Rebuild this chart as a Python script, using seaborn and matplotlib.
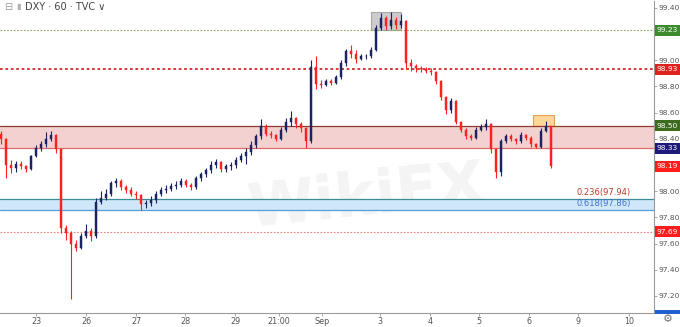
import matplotlib
matplotlib.use("Agg")
import matplotlib.pyplot as plt
import matplotlib.transforms as mtransforms
from matplotlib.patches import Rectangle
import seaborn as sns
import pandas as pd

# ---------------- data ----------------
first_open = 98.44
close = [98.40, 98.20, 98.18, 98.21, 98.19, 98.17, 98.27, 98.33, 98.36, 98.40,
         98.43, 98.32, 97.72, 97.68, 97.60, 97.57, 97.66, 97.70, 97.66, 97.92,
         97.95, 97.98, 98.06, 98.08, 98.03, 98.01, 97.98, 97.97, 97.90, 97.91,
         97.93, 97.98, 98.01, 98.02, 98.04, 98.05, 98.08, 98.05, 98.03, 98.10,
         98.13, 98.16, 98.20, 98.22, 98.17, 98.19, 98.20, 98.24, 98.27, 98.30,
         98.35, 98.42, 98.50, 98.44, 98.43, 98.40, 98.47, 98.53, 98.56, 98.51,
         98.48, 98.38, 98.95, 98.82, 98.81, 98.84, 98.83, 98.87, 98.98, 99.07,
         99.05, 99.01, 99.03, 99.03, 99.08, 99.25, 99.32, 99.26, 99.31, 99.27,
         99.30, 98.98, 98.96, 98.94, 98.93, 98.92, 98.91, 98.84, 98.72, 98.62,
         98.69, 98.53, 98.47, 98.42, 98.41, 98.47, 98.49, 98.51, 98.32, 98.15,
         98.38, 98.42, 98.40, 98.38, 98.43, 98.41, 98.36, 98.34, 98.46, 98.50,
         98.19]
high = [98.46, 98.41, 98.24, 98.23, 98.23, 98.20, 98.28, 98.35, 98.38, 98.45,
        98.46, 98.44, 98.33, 97.74, 97.70, 97.63, 97.68, 97.75, 97.72, 97.95,
        98.00, 98.02, 98.08, 98.10, 98.09, 98.05, 98.03, 98.00, 97.98, 97.93,
        97.96, 98.00, 98.03, 98.05, 98.06, 98.08, 98.10, 98.09, 98.06, 98.12,
        98.15, 98.18, 98.23, 98.25, 98.23, 98.21, 98.22, 98.26, 98.29, 98.33,
        98.38, 98.44, 98.55, 98.51, 98.46, 98.44, 98.49, 98.56, 98.61, 98.57,
        98.53, 98.49, 99.00, 99.03, 98.85, 98.86, 98.86, 98.89, 99.00, 99.09,
        99.12, 99.08, 99.05, 99.05, 99.10, 99.27, 99.36, 99.34, 99.37, 99.33,
        99.35, 99.31, 99.01, 98.97, 98.96, 98.95, 98.94, 98.92, 98.85, 98.73,
        98.71, 98.70, 98.54, 98.48, 98.44, 98.49, 98.51, 98.55, 98.52, 98.33,
        98.40, 98.44, 98.44, 98.41, 98.45, 98.44, 98.42, 98.37, 98.48, 98.54,
        98.50]
low = [98.36, 98.10, 98.14, 98.15, 98.17, 98.15, 98.16, 98.26, 98.31, 98.34,
       98.38, 98.29, 97.68, 97.63, 97.18, 97.54, 97.56, 97.64, 97.62, 97.64,
       97.90, 97.93, 97.96, 98.03, 98.01, 97.99, 97.96, 97.94, 97.86, 97.87,
       97.89, 97.91, 97.96, 97.99, 98.00, 98.02, 98.03, 98.03, 98.01, 98.02,
       98.08, 98.11, 98.14, 98.18, 98.15, 98.15, 98.16, 98.18, 98.22, 98.21,
       98.28, 98.33, 98.40, 98.42, 98.41, 98.38, 98.39, 98.45, 98.50, 98.48,
       98.45, 98.33, 98.37, 98.78, 98.79, 98.80, 98.81, 98.82, 98.86, 98.96,
       99.02, 98.98, 99.00, 99.01, 99.02, 99.07, 99.23, 99.23, 99.24, 99.24,
       99.25, 98.93, 98.92, 98.91, 98.91, 98.90, 98.89, 98.82, 98.70, 98.59,
       98.60, 98.51, 98.45, 98.40, 98.39, 98.40, 98.46, 98.47, 98.29, 98.10,
       98.12, 98.37, 98.38, 98.36, 98.37, 98.39, 98.34, 98.33, 98.33, 98.45,
       98.18]

tick_labels = ["23", "26", "27", "28", "29", "21:00", "Sep", "3", "4", "5", "6", "9", "10"]
tick_pos = [7.0, 17.0, 27.0, 36.8, 46.8, 55.6, 64.2, 75.8, 85.8, 95.6, 105.6, 115.4, 125.6]

price_ticks = [97.20, 97.40, 97.60, 97.80, 98.00, 98.20, 98.40, 98.60, 98.80, 99.00, 99.20, 99.40]
hidden_price_labels = [98.20, 99.20]   # covered by the price tags in the reference

level_green = 99.23
level_red = 98.93
zone_top, zone_bot = 98.50, 98.33
fib_236, fib_618 = 97.94, 97.86
level_low = 97.69

tags = [(99.23, "#3d8b2f"), (98.93, "#e0221f"), (98.50, "#3c6b1e"),
        (98.33, "#1d1a7a"), (98.19, "#ff1c1c"), (97.69, "#ff1c1c")]

# ---------------- build table ----------------
opens = [first_open] + close[:-1]
df = pd.DataFrame({"i": range(len(close)), "open": opens, "close": close,
                   "high": high, "low": low})
df["up"] = df["close"] >= df["open"]
df["bottom"] = df[["open", "close"]].min(axis=1)
df["height"] = (df["close"] - df["open"]).abs().clip(lower=0.006)

sns.set_theme(style="white")
plt.rcParams["font.family"] = ["DejaVu Sans"]

W, H = 680, 327
fig = plt.figure(figsize=(W / 100, H / 100), dpi=100)
ax = fig.add_axes([0, 14 / H, 654 / W, 1 - 15 / H])
ax.set_facecolor("white")

ymin, ymax = 97.07, 99.453
ax.set_ylim(ymin, ymax)
ax.set_xlim(-0.2, 130.6)

UP = "#1b2463"
DN = "#ff2020"

# watermark
ax.text(73, 97.95, "WikiFX", fontsize=44, fontweight="bold", color="#f4f4f4",
        ha="center", va="center", rotation=6, zorder=0)

# zones and levels
ax.axhspan(zone_bot, zone_top, color="#f3c9c9", alpha=0.85, lw=0, zorder=1)
ax.axhline(zone_top, color="#8c3b2e", lw=0.9, zorder=2)
ax.axhline(zone_bot, color="#e06a6a", lw=0.9, zorder=2)
ax.axhspan(fib_618, fib_236, color="#cfe7f8", lw=0, zorder=1)
ax.axhline(fib_236, color="#3f8d94", lw=0.9, zorder=2)
ax.axhline(fib_618, color="#4f9fe0", lw=0.9, zorder=2)
ax.axhline(level_green, color="#8fa86a", lw=0.8, ls=(0, (1.5, 1.5)), zorder=2)
ax.axhline(level_red, color="#d62828", lw=1.3, ls=(0, (1.5, 1.5)), zorder=2)
ax.axhline(level_low, color="#e88080", lw=0.8, ls=(0, (1.5, 1.5)), zorder=2)

# highlight boxes
ax.add_patch(Rectangle((74.0, 99.23), 6.0, 0.14, facecolor="#c4c4c4",
                       edgecolor="#9e9e9e", lw=0.8, alpha=0.85, zorder=1))
ax.add_patch(Rectangle((106.4, 98.50), 4.1, 0.082, facecolor="#ffd79a",
                       edgecolor="#e6a055", lw=0.8, zorder=1))

# candles: wicks + bodies
for up, col in [(True, UP), (False, DN)]:
    d = df[df["up"] == up]
    ax.vlines(d["i"], d["low"], d["high"], color=col, lw=0.8, zorder=3)
    ax.bar(d["i"], d["height"], bottom=d["bottom"], width=0.55, color=col,
           edgecolor=col, lw=0.3, zorder=4)

# fib labels
ax.text(126, fib_236 + 0.015, "0.236(97.94)", color="#c0392b", fontsize=6,
        ha="right", va="bottom", zorder=5)
ax.text(126, fib_618 + 0.01, "0.618(97.86)", color="#3d6fd0", fontsize=6,
        ha="right", va="bottom", zorder=5)

# axes styling
for s in ["top", "left"]:
    ax.spines[s].set_visible(False)
ax.spines["right"].set_color("#9a9a9a")
ax.spines["bottom"].set_color("#9a9a9a")
ax.spines["right"].set_linewidth(0.8)
ax.spines["bottom"].set_linewidth(0.8)
ax.yaxis.tick_right()
ax.set_yticks(price_ticks)
ax.set_yticklabels(["" if v in hidden_price_labels else f"{v:.2f}" for v in price_ticks])
ax.set_xticks(tick_pos)
ax.set_xticklabels(tick_labels)
ax.tick_params(axis="y", which="both", right=True, length=2.5, width=0.6,
               color="#9a9a9a", labelsize=5.4, labelcolor="#555555", pad=1)
ax.tick_params(axis="x", which="both", bottom=True, length=2, width=0.6,
               color="#9a9a9a", labelsize=5.8, labelcolor="#555555", pad=1)
ax.grid(False)

# price tags on right axis
tr = mtransforms.blended_transform_factory(fig.transFigure, ax.transData)
th = 0.084  # tag height in price units (~11 px)
for val, col in tags:
    ax.add_patch(Rectangle((655 / W, val - th / 2), 25 / W, th, transform=tr,
                           facecolor=col, edgecolor="none", clip_on=False, zorder=6))
    ax.text(667.5 / W, val, f"{val:.2f}", transform=tr, color="white",
            fontsize=5.4, ha="center", va="center", clip_on=False, zorder=7)
# cut-off tag at the bottom edge
ax.add_patch(Rectangle((655 / W, ymin - 0.01), 25 / W, 0.03, transform=tr,
                       facecolor="#1f5fd0", edgecolor="none", clip_on=False, zorder=6))

# header and icons
fig.text(4 / W, 1 - 7 / H, "⊟", fontsize=7, color="#9a9a9a", va="center")
fig.text(16 / W, 1 - 7 / H, "▮", fontsize=6, color="#b0b0b0", va="center")
fig.text(25 / W, 1 - 7 / H, "DXY · 60 · TVC ∨", fontsize=7, color="#444444",
         va="center")
fig.text(668 / W, 1 - 319 / H, "⚙", fontsize=8, color="#777777",
         ha="center", va="center")

fig.savefig("out.png", dpi=100)
